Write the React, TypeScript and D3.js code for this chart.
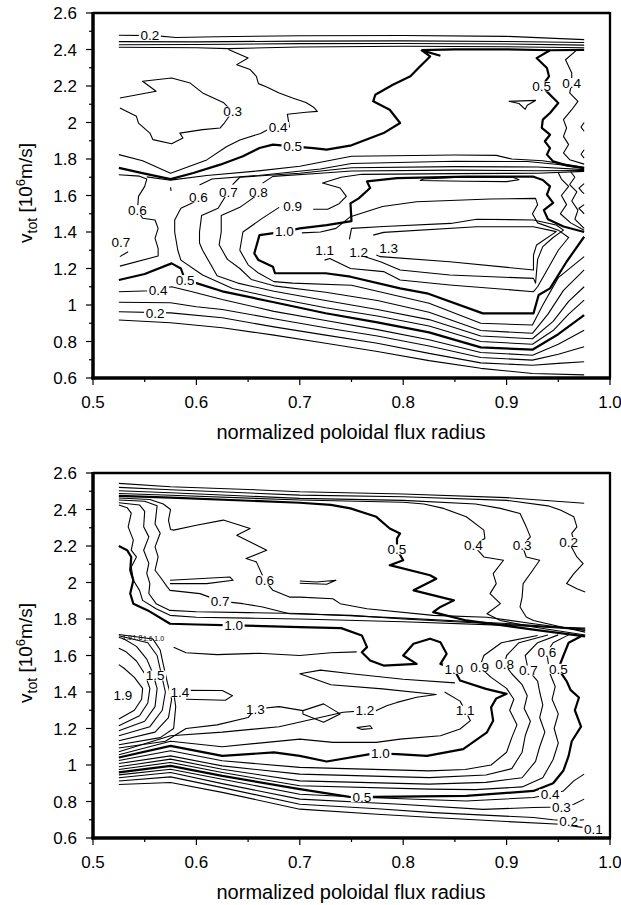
import React from "react";
import * as d3 from "d3";

type P = [number, number];
type Lv = [number, P[]];
type Lb = [string, number, number];

const xTicks = [0.5, 0.6, 0.7, 0.8, 0.9, 1.0];
const xMinor = [0.55, 0.65, 0.75, 0.85, 0.95];
const yTicks = [0.6, 0.8, 1, 1.2, 1.4, 1.6, 1.8, 2, 2.2, 2.4, 2.6];
const yMinor = [0.7, 0.9, 1.1, 1.3, 1.5, 1.7, 1.9, 2.1, 2.3, 2.5];

// ---- upper panel contours [level, [x, v]...]
const topLines: Lv[] = [
  [0.2, [[0.525, 2.478], [0.56, 2.476], [0.58, 2.466], [0.62, 2.47], [0.7, 2.475], [0.8, 2.477], [0.9, 2.472], [0.975, 2.454]]],
  [0.3, [[0.525, 2.443], [0.6, 2.442], [0.7, 2.446], [0.8, 2.447], [0.9, 2.444], [0.975, 2.438]]],
  [0.4, [[0.525, 2.426], [0.6, 2.427], [0.7, 2.432], [0.8, 2.433], [0.9, 2.43], [0.975, 2.424]]],
  [0.4, [[0.525, 2.412], [0.6, 2.41], [0.631, 2.405], [0.7, 2.414], [0.8, 2.418], [0.9, 2.415], [0.975, 2.41]]],
  [0.5, [[0.818, 2.397], [0.85, 2.401], [0.9, 2.401], [0.942, 2.396], [0.975, 2.398]]],
  [0.3, [[0.526, 2.134], [0.561, 2.171], [0.548, 2.226], [0.576, 2.244], [0.594, 2.216], [0.606, 2.162], [0.626, 2.11], [0.635, 2.06], [0.627, 1.997], [0.623, 1.97], [0.606, 1.961], [0.584, 1.942], [0.587, 1.915], [0.576, 1.884], [0.558, 1.906], [0.555, 1.942], [0.544, 1.997], [0.542, 2.034], [0.526, 2.079]]],
  [0.4, [[0.631, 2.4], [0.65, 2.353], [0.639, 2.317], [0.652, 2.29], [0.658, 2.253], [0.66, 2.213], [0.668, 2.195], [0.68, 2.162], [0.693, 2.134], [0.706, 2.11], [0.713, 2.085], [0.717, 2.061], [0.706, 2.056], [0.688, 2.045], [0.69, 1.975], [0.679, 1.975], [0.668, 1.958], [0.662, 1.94], [0.642, 1.904], [0.629, 1.867], [0.61, 1.795], [0.575, 1.722], [0.548, 1.79], [0.525, 1.824]]],
  [0.5, [[0.525, 1.751], [0.55, 1.72], [0.575, 1.69], [0.597, 1.723], [0.623, 1.769], [0.645, 1.815], [0.661, 1.86], [0.674, 1.879], [0.693, 1.869], [0.713, 1.86], [0.726, 1.851], [0.75, 1.875], [0.781, 1.942], [0.797, 1.997], [0.787, 2.07], [0.771, 2.116], [0.773, 2.152], [0.79, 2.207], [0.807, 2.253], [0.815, 2.3], [0.826, 2.362], [0.818, 2.395], [0.836, 2.366]]],
  [0.5, [[0.942, 2.396], [0.929, 2.353], [0.939, 2.299], [0.941, 2.253], [0.934, 2.198], [0.942, 2.152], [0.95, 2.107], [0.942, 2.052], [0.935, 2.016], [0.934, 1.97], [0.942, 1.933], [0.937, 1.897], [0.942, 1.86], [0.939, 1.824], [0.945, 1.787], [0.958, 1.765], [0.975, 1.75]]],
  [0.4, [[0.968, 2.398], [0.957, 2.344], [0.963, 2.271], [0.963, 2.216], [0.961, 2.162], [0.969, 2.116], [0.963, 2.07], [0.955, 2.016], [0.958, 1.97], [0.955, 1.924], [0.96, 1.879], [0.955, 1.833], [0.961, 1.796], [0.975, 1.772]]],
  [0.3, [[0.975, 2.0], [0.972, 1.975], [0.975, 1.952]]],
  [0.3, [[0.975, 1.851], [0.972, 1.826], [0.975, 1.805]]],
  [0.6, [[0.902, 2.116], [0.928, 2.121], [0.92, 2.095], [0.918, 2.072], [0.912, 2.104], [0.902, 2.116]]],
  [0.6, [[0.575, 1.645], [0.5755, 1.625]]],
  // middle band
  [0.6, [[0.525, 1.714], [0.545, 1.706], [0.552, 1.69], [0.55, 1.65], [0.544, 1.595], [0.543, 1.52], [0.548, 1.475], [0.56, 1.466], [0.563, 1.42], [0.56, 1.365], [0.563, 1.31], [0.563, 1.268], [0.526, 1.213]]],
  [0.6, [[0.552, 1.702], [0.575, 1.684], [0.61, 1.71], [0.66, 1.735], [0.7, 1.76], [0.75, 1.815], [0.85, 1.822], [0.89, 1.82], [0.905, 1.8], [0.935, 1.79], [0.96, 1.768], [0.975, 1.755]]],
  [0.6, [[0.603, 1.658], [0.615, 1.69], [0.66, 1.71], [0.72, 1.745], [0.75, 1.775], [0.85, 1.788], [0.92, 1.786], [0.95, 1.77], [0.975, 1.748]]],
  [0.7, [[0.635, 1.66], [0.642, 1.7], [0.7, 1.722], [0.75, 1.752], [0.85, 1.758], [0.93, 1.756], [0.975, 1.742]]],
  [0.8, [[0.664, 1.668], [0.674, 1.705], [0.72, 1.722], [0.75, 1.734], [0.85, 1.739], [0.93, 1.736], [0.975, 1.737]]],
  [0.9, [[0.713, 1.525], [0.727, 1.525], [0.738, 1.555], [0.745, 1.595], [0.739, 1.641], [0.722, 1.668], [0.74, 1.7], [0.76, 1.716], [0.85, 1.72], [0.93, 1.722], [0.975, 1.732]]],
  [1.1, [[0.816, 1.682], [0.86, 1.678], [0.9, 1.676], [0.912, 1.686], [0.906, 1.7], [0.85, 1.699], [0.82, 1.69], [0.816, 1.682]]],
  [0.7, [[0.526, 1.265], [0.534, 1.292]]],
  // vertical parts of 0.6 - 0.9 and the lower fan
  [0.6, [[0.598, 1.565], [0.585, 1.53], [0.579, 1.466], [0.579, 1.4], [0.582, 1.3], [0.585, 1.246], [0.606, 1.164], [0.635, 1.09], [0.675, 1.04], [0.725, 0.985], [0.775, 0.94], [0.825, 0.885], [0.875, 0.8], [0.925, 0.785], [0.945, 0.86], [0.96, 0.95], [0.975, 1.027]]],
  [0.7, [[0.628, 1.595], [0.621, 1.53], [0.605, 1.49], [0.603, 1.4], [0.603, 1.34], [0.606, 1.3], [0.614, 1.22], [0.62, 1.16], [0.64, 1.12], [0.675, 1.075], [0.725, 1.025], [0.775, 0.975], [0.825, 0.92], [0.875, 0.83], [0.925, 0.815], [0.945, 0.91], [0.96, 1.02], [0.975, 1.1]]],
  [0.8, [[0.657, 1.595], [0.642, 1.535], [0.624, 1.49], [0.624, 1.4], [0.622, 1.33], [0.63, 1.25], [0.642, 1.2], [0.653, 1.14], [0.675, 1.105], [0.725, 1.07], [0.775, 1.025], [0.825, 0.96], [0.875, 0.86], [0.925, 0.845], [0.94, 0.95], [0.955, 1.08], [0.975, 1.192]]],
  [0.9, [[0.68, 1.535], [0.664, 1.476], [0.645, 1.4], [0.642, 1.3], [0.65, 1.22], [0.66, 1.175], [0.675, 1.128], [0.693, 1.12], [0.75, 1.108], [0.775, 1.075], [0.825, 1.01], [0.875, 0.9], [0.925, 0.89], [0.935, 1.0], [0.95, 1.15], [0.975, 1.265]]],
  [0.5, [[0.525, 1.137], [0.55, 1.17], [0.576, 1.228], [0.585, 1.2], [0.589, 1.137], [0.6, 1.12], [0.625, 1.075], [0.675, 1.015], [0.725, 0.955], [0.775, 0.905], [0.825, 0.85], [0.875, 0.768], [0.925, 0.755], [0.95, 0.84], [0.975, 0.945]]],
  [0.4, [[0.525, 1.073], [0.556, 1.078], [0.576, 1.1], [0.594, 1.075], [0.625, 1.03], [0.675, 0.965], [0.725, 0.915], [0.775, 0.865], [0.825, 0.81], [0.875, 0.74], [0.925, 0.725], [0.95, 0.785], [0.975, 0.862]]],
  [0.3, [[0.525, 1.015], [0.575, 1.012], [0.6, 0.99], [0.625, 0.975], [0.675, 0.925], [0.725, 0.875], [0.775, 0.83], [0.825, 0.775], [0.875, 0.712], [0.925, 0.698], [0.95, 0.73], [0.975, 0.771]]],
  [0.2, [[0.525, 0.963], [0.575, 0.957], [0.625, 0.93], [0.675, 0.88], [0.725, 0.835], [0.775, 0.79], [0.825, 0.735], [0.875, 0.683], [0.925, 0.67], [0.95, 0.68], [0.975, 0.689]]],
  [0.1, [[0.525, 0.918], [0.575, 0.903], [0.625, 0.875], [0.675, 0.835], [0.725, 0.79], [0.775, 0.745], [0.825, 0.695], [0.875, 0.653], [0.925, 0.625], [0.975, 0.617]]],
  // 1.0 and inner contours
  [1.0, [[0.685, 1.402], [0.661, 1.383], [0.656, 1.283], [0.66, 1.246], [0.674, 1.21], [0.676, 1.174], [0.725, 1.174], [0.749, 1.155], [0.797, 1.091], [0.823, 1.064], [0.877, 0.954], [0.926, 0.954], [0.931, 1.055], [0.942, 1.091], [0.958, 1.237], [0.975, 1.374]]],
  [1.0, [[0.685, 1.402], [0.7, 1.42], [0.726, 1.438], [0.75, 1.46], [0.749, 1.557], [0.757, 1.584], [0.768, 1.641], [0.765, 1.677], [0.794, 1.695], [0.861, 1.703], [0.926, 1.703], [0.935, 1.685], [0.942, 1.65], [0.939, 1.605], [0.945, 1.56], [0.936, 1.52], [0.94, 1.47], [0.955, 1.43], [0.975, 1.4]]],
  [0.9, [[0.95, 1.725], [0.953, 1.69], [0.96, 1.65], [0.953, 1.6], [0.958, 1.55], [0.952, 1.5], [0.962, 1.45], [0.975, 1.41]]],
  [0.8, [[0.962, 1.73], [0.966, 1.7], [0.961, 1.66], [0.968, 1.62], [0.963, 1.57], [0.969, 1.52], [0.966, 1.47], [0.975, 1.42]]],
  [0.7, [[0.975, 1.665], [0.97, 1.64], [0.973, 1.62], [0.975, 1.61]]],
  [0.7, [[0.975, 1.55], [0.97, 1.53], [0.975, 1.5]]],
  [1.1, [[0.702, 1.395], [0.72, 1.4], [0.735, 1.42], [0.749, 1.484], [0.78, 1.54], [0.813, 1.566], [0.884, 1.581], [0.928, 1.584], [0.93, 1.55], [0.925, 1.5], [0.93, 1.45], [0.95, 1.41], [0.96, 1.37], [0.95, 1.3], [0.94, 1.2], [0.93, 1.1], [0.926, 1.073], [0.845, 1.11], [0.797, 1.137], [0.781, 1.183], [0.749, 1.2], [0.729, 1.255], [0.724, 1.246]]],
  [1.2, [[0.748, 1.36], [0.75, 1.42], [0.781, 1.43], [0.846, 1.447], [0.871, 1.47], [0.926, 1.466], [0.948, 1.438], [0.955, 1.41], [0.945, 1.37], [0.935, 1.32], [0.93, 1.25], [0.928, 1.12], [0.926, 1.146], [0.845, 1.164], [0.797, 1.192], [0.778, 1.237], [0.76, 1.27]]],
  [1.3, [[0.774, 1.274], [0.778, 1.265], [0.845, 1.237], [0.926, 1.192], [0.926, 1.274], [0.929, 1.329], [0.948, 1.402], [0.926, 1.429], [0.871, 1.429], [0.781, 1.398], [0.771, 1.383]]],
];

const topLabels: Lb[] = [
  ["0.2", 0.555, 2.476], ["0.3", 0.635, 2.06], ["0.4", 0.679, 1.975], ["0.5", 0.693, 1.869],
  ["0.5", 0.934, 2.198], ["0.4", 0.963, 2.216], ["0.6", 0.543, 1.52], ["0.6", 0.602, 1.59],
  ["0.7", 0.631, 1.62], ["0.8", 0.66, 1.62], ["0.9", 0.693, 1.539], ["0.7", 0.527, 1.347],
  ["1.0", 0.685, 1.402], ["1.1", 0.724, 1.301], ["1.2", 0.757, 1.292], ["1.3", 0.786, 1.31],
  ["0.5", 0.589, 1.137], ["0.4", 0.563, 1.082], ["0.2", 0.56, 0.954],
];

// ---- lower panel contours
const botLines: Lv[] = [
  // top band
  [0.1, [[0.525, 2.543], [0.575, 2.525], [0.65, 2.51], [0.7, 2.497], [0.8, 2.485], [0.9, 2.465], [0.975, 2.434]]],
  [0.2, [[0.525, 2.521], [0.575, 2.508], [0.7, 2.479], [0.8, 2.47], [0.9, 2.45], [0.94, 2.42], [0.952, 2.397], [0.965, 2.36], [0.968, 2.305], [0.963, 2.269], [0.965, 2.232], [0.96, 2.223], [0.968, 2.14], [0.974, 2.104], [0.965, 2.049], [0.958, 1.994], [0.968, 1.966], [0.976, 1.948]]],
  [0.3, [[0.525, 2.503], [0.575, 2.492], [0.7, 2.461], [0.8, 2.45], [0.87, 2.43], [0.894, 2.406], [0.913, 2.378], [0.919, 2.305], [0.923, 2.25], [0.915, 2.204], [0.919, 2.14], [0.932, 2.122], [0.923, 2.049], [0.916, 1.994], [0.915, 1.92], [0.913, 1.866], [0.919, 1.811], [0.926, 1.792], [0.95, 1.76], [0.976, 1.728]]],
  [0.4, [[0.525, 2.488], [0.575, 2.478], [0.7, 2.452], [0.8, 2.44], [0.82, 2.43], [0.839, 2.406], [0.861, 2.36], [0.878, 2.287], [0.879, 2.241], [0.868, 2.204], [0.878, 2.14], [0.897, 2.122], [0.887, 2.049], [0.89, 1.994], [0.884, 1.939], [0.894, 1.884], [0.881, 1.829], [0.894, 1.792], [0.926, 1.756], [0.976, 1.712]]],
  [0.5, [[0.525, 2.475], [0.575, 2.465], [0.7, 2.437], [0.73, 2.425], [0.749, 2.406], [0.774, 2.36], [0.787, 2.296], [0.797, 2.269], [0.794, 2.241], [0.794, 2.181], [0.8, 2.122], [0.787, 2.095], [0.826, 2.04], [0.832, 2.021], [0.81, 1.957], [0.849, 1.902], [0.836, 1.866], [0.829, 1.838], [0.861, 1.792], [0.926, 1.742], [0.976, 1.705]]],
  [0.6, [[0.525, 2.463], [0.555, 2.455], [0.568, 2.43], [0.575, 2.4], [0.573, 2.34], [0.575, 2.29], [0.578, 2.287], [0.6, 2.314], [0.626, 2.342], [0.652, 2.296], [0.639, 2.259], [0.668, 2.177], [0.648, 2.131], [0.658, 2.113], [0.666, 2.012], [0.674, 1.957], [0.69, 1.92], [0.7, 1.92], [0.732, 1.911], [0.739, 1.884], [0.765, 1.856], [0.829, 1.82], [0.881, 1.81], [0.926, 1.774], [0.976, 1.737]]],
  [0.7, [[0.525, 2.452], [0.55, 2.445], [0.562, 2.42], [0.56, 2.32], [0.565, 2.27], [0.56, 2.195], [0.563, 2.14], [0.56, 2.067], [0.565, 2.03], [0.572, 1.975], [0.5745, 1.957], [0.6035, 1.939], [0.623, 1.898], [0.645, 1.884], [0.664, 1.866], [0.69, 1.829], [0.75, 1.82], [0.8, 1.8], [0.9, 1.77], [0.976, 1.74]]],
  [0.7, [[0.5745, 2.012], [0.6325, 2.03], [0.6355, 2.012], [0.61, 1.994], [0.5745, 1.994]]],
  [0.6, [[0.7, 2.008], [0.716, 2.003], [0.735, 2.012], [0.726, 1.99], [0.7, 1.996]]],
  [0.8, [[0.525, 2.437], [0.545, 2.425], [0.55, 2.39], [0.549, 2.305], [0.554, 2.25], [0.549, 2.177], [0.554, 2.105], [0.552, 2.05], [0.555, 1.994], [0.554, 1.94], [0.561, 1.884], [0.5745, 1.847], [0.6, 1.84], [0.65, 1.835], [0.7, 1.83], [0.8, 1.805], [0.9, 1.775], [0.976, 1.745]]],
  [0.9, [[0.525, 2.425], [0.533, 2.41], [0.537, 2.38], [0.534, 2.305], [0.539, 2.232], [0.537, 2.177], [0.542, 2.14], [0.537, 2.085], [0.539, 2.012], [0.545, 1.957], [0.548, 1.902], [0.561, 1.856], [0.5745, 1.82], [0.6, 1.81], [0.65, 1.805], [0.7, 1.8], [0.8, 1.785], [0.9, 1.765], [0.976, 1.75]]],
  [1.0, [[0.525, 2.2], [0.533, 2.177], [0.537, 2.14], [0.536, 2.067], [0.539, 2.012], [0.536, 1.94], [0.539, 1.884], [0.553, 1.847], [0.5745, 1.774], [0.6, 1.77], [0.636, 1.765], [0.7, 1.756], [0.74, 1.75], [0.76, 1.71], [0.765, 1.646], [0.76, 1.618], [0.768, 1.573], [0.781, 1.545], [0.813, 1.554], [0.8, 1.6], [0.81, 1.664], [0.826, 1.692], [0.836, 1.673], [0.842, 1.609], [0.836, 1.554], [0.849, 1.527], [0.855, 1.463], [0.88, 1.417], [0.9, 1.39], [0.89, 1.365], [0.885, 1.316], [0.887, 1.243], [0.881, 1.179], [0.858, 1.087], [0.823, 1.05], [0.794, 1.06], [0.778, 1.063], [0.768, 1.06], [0.726, 1.019], [0.7, 1.05], [0.675, 1.069], [0.625, 1.05], [0.575, 1.105], [0.525, 1.041]]],
  // right verticals joined to the bottom fan
  [0.9, [[0.93, 1.71], [0.895, 1.67], [0.878, 1.6], [0.874, 1.536], [0.885, 1.48], [0.9, 1.42], [0.907, 1.36], [0.903, 1.3], [0.91, 1.22], [0.905, 1.15], [0.9, 1.07], [0.885, 1.0], [0.86, 0.975], [0.825, 0.968], [0.7, 0.987], [0.625, 1.023], [0.575, 1.078], [0.525, 1.025]]],
  [0.8, [[0.94, 1.712], [0.912, 1.67], [0.9, 1.6], [0.898, 1.554], [0.905, 1.5], [0.915, 1.44], [0.92, 1.38], [0.917, 1.31], [0.923, 1.24], [0.918, 1.16], [0.915, 1.07], [0.905, 0.98], [0.88, 0.945], [0.825, 0.931], [0.7, 0.95], [0.625, 0.995], [0.575, 1.05], [0.525, 1.008]]],
  [0.7, [[0.95, 1.713], [0.93, 1.67], [0.918, 1.6], [0.921, 1.518], [0.93, 1.46], [0.932, 1.4], [0.935, 1.33], [0.932, 1.26], [0.937, 1.18], [0.932, 1.1], [0.928, 1.02], [0.915, 0.93], [0.88, 0.905], [0.825, 0.895], [0.7, 0.913], [0.625, 0.977], [0.575, 1.032], [0.525, 0.99]]],
  [0.6, [[0.96, 1.713], [0.945, 1.67], [0.939, 1.618], [0.94, 1.57], [0.942, 1.5], [0.947, 1.43], [0.944, 1.36], [0.95, 1.28], [0.946, 1.2], [0.95, 1.12], [0.945, 1.03], [0.935, 0.93], [0.915, 0.88], [0.87, 0.865], [0.825, 0.868], [0.7, 0.886], [0.625, 0.959], [0.575, 1.014], [0.525, 0.975]]],
  [0.5, [[0.972, 1.705], [0.96, 1.67], [0.955, 1.6], [0.95, 1.527], [0.958, 1.46], [0.962, 1.41], [0.97, 1.37], [0.966, 1.3], [0.972, 1.21], [0.963, 1.13], [0.96, 1.05], [0.955, 0.97], [0.945, 0.9], [0.926, 0.858], [0.861, 0.831], [0.774, 0.825], [0.76, 0.824], [0.748, 0.825], [0.7, 0.868], [0.625, 0.94], [0.575, 0.995], [0.525, 0.96]]],
  [0.4, [[0.525, 0.946], [0.575, 0.977], [0.625, 0.922], [0.7, 0.84], [0.765, 0.822], [0.861, 0.803], [0.926, 0.822], [0.942, 0.84], [0.955, 0.858], [0.965, 0.913], [0.975, 0.95]]],
  [0.3, [[0.525, 0.93], [0.575, 0.959], [0.625, 0.898], [0.7, 0.813], [0.797, 0.785], [0.877, 0.757], [0.926, 0.767], [0.953, 0.77], [0.965, 0.785], [0.975, 0.813]]],
  [0.2, [[0.525, 0.912], [0.575, 0.935], [0.625, 0.876], [0.7, 0.785], [0.775, 0.76], [0.829, 0.739], [0.926, 0.712], [0.945, 0.7], [0.96, 0.693], [0.975, 0.7]]],
  [0.1, [[0.525, 0.893], [0.575, 0.904], [0.625, 0.85], [0.7, 0.758], [0.775, 0.73], [0.829, 0.712], [0.9, 0.69], [0.952, 0.675], [0.975, 0.657]]],
  // left arcs 1.1 - 1.9
  [1.9, [[0.525, 1.252], [0.54, 1.3], [0.547, 1.36], [0.548, 1.42], [0.54, 1.48], [0.53, 1.53], [0.525, 1.55]]],
  [1.8, [[0.525, 1.215], [0.545, 1.27], [0.553, 1.34], [0.555, 1.42], [0.55, 1.5], [0.542, 1.57], [0.532, 1.62], [0.525, 1.64]]],
  [1.7, [[0.525, 1.188], [0.55, 1.24], [0.56, 1.32], [0.562, 1.42], [0.558, 1.5], [0.552, 1.58], [0.542, 1.65], [0.53, 1.69], [0.525, 1.7]]],
  [1.6, [[0.525, 1.16], [0.555, 1.21], [0.567, 1.3], [0.57, 1.4], [0.566, 1.5], [0.562, 1.6], [0.553, 1.67], [0.525, 1.708]]],
  [1.5, [[0.525, 1.133], [0.56, 1.18], [0.573, 1.26], [0.576, 1.36], [0.572, 1.45], [0.568, 1.55], [0.565, 1.63], [0.558, 1.69], [0.525, 1.715]]],
  [1.4, [[0.525, 1.111], [0.565, 1.15], [0.578, 1.2], [0.58, 1.32], [0.578, 1.4], [0.59, 1.41], [0.625, 1.408], [0.635, 1.38], [0.628, 1.355], [0.59, 1.36]]],
  [1.3, [[0.525, 1.093], [0.57, 1.13], [0.59, 1.2], [0.62, 1.22], [0.65, 1.26], [0.657, 1.307], [0.68, 1.32], [0.703, 1.298], [0.723, 1.335], [0.739, 1.28], [0.723, 1.234], [0.703, 1.28], [0.703, 1.298]]],
  [1.2, [[0.525, 1.073], [0.575, 1.16], [0.625, 1.18], [0.68, 1.21], [0.742, 1.289], [0.763, 1.298], [0.774, 1.298], [0.784, 1.325], [0.794, 1.343], [0.813, 1.371], [0.832, 1.386], [0.78, 1.417], [0.73, 1.44], [0.7, 1.5], [0.72, 1.52], [0.75, 1.5], [0.8, 1.47], [0.85, 1.45]]],
  [1.1, [[0.525, 1.056], [0.575, 1.13], [0.625, 1.1], [0.7, 1.142], [0.732, 1.124], [0.774, 1.124], [0.797, 1.142], [0.836, 1.16], [0.855, 1.197], [0.865, 1.243], [0.86, 1.298], [0.855, 1.35], [0.84, 1.4]]],
  [1.1, [[0.578, 1.645], [0.59, 1.615], [0.62, 1.605], [0.66, 1.612], [0.7, 1.6], [0.73, 1.615], [0.755, 1.62]]],
  [1.2, [[0.755, 1.205], [0.768, 1.215], [0.77, 1.2], [0.76, 1.195], [0.755, 1.205]]],
];

const botLabels: Lb[] = [
  ["0.6", 0.666, 2.012], ["0.7", 0.623, 1.898], ["1.0", 0.636, 1.765], ["1.5", 0.56, 1.49],
  ["0.5", 0.794, 2.181], ["0.4", 0.868, 2.204], ["0.3", 0.915, 2.204], ["0.2", 0.96, 2.222],
  ["0.6", 0.939, 1.618], ["1.0", 0.849, 1.527], ["0.9", 0.874, 1.536], ["0.8", 0.898, 1.554],
  ["0.7", 0.921, 1.518], ["0.5", 0.95, 1.527], ["1.9", 0.529, 1.384], ["1.4", 0.584, 1.398],
  ["1.3", 0.657, 1.307], ["1.2", 0.763, 1.298], ["1.1", 0.86, 1.298], ["1.0", 0.778, 1.063],
  ["0.5", 0.76, 0.824], ["0.4", 0.942, 0.84], ["0.3", 0.953, 0.77], ["0.2", 0.96, 0.693],
  ["0.1", 0.984, 0.648],
];
// tiny crowded labels where the 1.5-1.9 lines converge
const botTiny: Lb[] = [["1.9", 0.533, 1.7], ["1.8", 0.543, 1.697], ["1.6", 0.553, 1.694], ["1.0", 0.564, 1.691]];

const FONT = "'Liberation Sans', Arial, Helvetica, sans-serif";

function Panel({ top, lines, labels, tiny = [] }: { top: number; lines: Lv[]; labels: Lb[]; tiny?: Lb[] }) {
  const x = d3.scaleLinear().domain([0.5, 1]).range([93, 610]);
  const y = d3.scaleLinear().domain([0.6, 2.6]).range([top + 365, top]);
  const line = d3.line<P>().x(d => x(d[0])).y(d => y(d[1]));
  const bold = (z: number) => Math.abs(z - 0.5) < 1e-6 || Math.abs(z - 1) < 1e-6;
  const bottom = y(0.6);
  return (
    <g>
      {lines.map(([z, pts], i) => (
        <path key={i} d={line(pts) || ""} fill="none" stroke="#000"
          strokeWidth={bold(z) ? 2.2 : 1.1} strokeLinejoin="round" />
      ))}
      {labels.map(([t, lx, lv], i) => (
        <g key={i}>
          <rect x={x(lx) - 11} y={y(lv) - 5} width={22} height={10} fill="#fff" />
          <text x={x(lx)} y={y(lv)} dy="0.36em" textAnchor="middle" fontSize={13.5}
            fontFamily={FONT} fill="#000">{t}</text>
        </g>
      ))}
      {tiny.map(([t, lx, lv], i) => (
        <text key={i} x={x(lx)} y={y(lv)} dy="0.35em" textAnchor="middle" fontSize={7}
          fontFamily={FONT} fill="#000">{t}</text>
      ))}
      {/* frame */}
      <line x1={x(0.5)} x2={x(1)} y1={y(2.6)} y2={y(2.6)} stroke="#000" strokeWidth={2.3} />
      <line x1={x(1)} x2={x(1)} y1={y(2.6) - 1} y2={bottom} stroke="#000" strokeWidth={2.3} />
      <line x1={x(0.5) - 1.5} x2={x(1) + 1} y1={bottom} y2={bottom} stroke="#000" strokeWidth={3.5} />
      <line x1={x(0.5)} x2={x(0.5)} y1={y(2.6) - 1} y2={bottom + 1.5} stroke="#000" strokeWidth={3.5} />
      {yTicks.map(t => (
        <g key={t}>
          <line x1={x(0.5) - 7} x2={x(0.5)} y1={y(t)} y2={y(t)} stroke="#000" strokeWidth={1.2} />
          <text x={77} y={y(t)} dy="0.36em" textAnchor="end" fontSize={17} fontFamily={FONT}>{String(t)}</text>
        </g>
      ))}
      {yMinor.map(t => (
        <line key={t} x1={x(0.5) - 4} x2={x(0.5)} y1={y(t)} y2={y(t)} stroke="#000" strokeWidth={1.2} />
      ))}
      {xTicks.map(t => (
        <g key={t}>
          <line x1={x(t)} x2={x(t)} y1={bottom} y2={bottom + 7} stroke="#000" strokeWidth={1.2} />
          <text x={x(t)} y={bottom + 30} textAnchor="middle" fontSize={17} fontFamily={FONT}>{t.toFixed(1)}</text>
        </g>
      ))}
      {xMinor.map(t => (
        <line key={t} x1={x(t)} x2={x(t)} y1={bottom} y2={bottom + 4} stroke="#000" strokeWidth={1.2} />
      ))}
      <text x={351} y={bottom + 61} textAnchor="middle" fontSize={20} fontFamily={FONT}>normalized poloidal flux radius</text>
      <text transform={`translate(32,${top + 180}) rotate(-90)`} textAnchor="middle" fontSize={19} fontFamily={FONT}>
        v<tspan fontSize={14} dy={5}>tot</tspan><tspan dy={-5}> [10</tspan><tspan fontSize={13} dy={-7}>6</tspan><tspan dy={7}>m/s]</tspan>
      </text>
    </g>
  );
}

export default function App() {
  return (
    <svg width={621} height={905} style={{ position: "absolute", left: 0, top: 0, background: "#fff" }}>
      <rect width={621} height={905} fill="#fff" />
      <Panel top={13} lines={topLines} labels={topLabels} />
      <Panel top={473} lines={botLines} labels={botLabels} tiny={botTiny} />
    </svg>
  );
}
